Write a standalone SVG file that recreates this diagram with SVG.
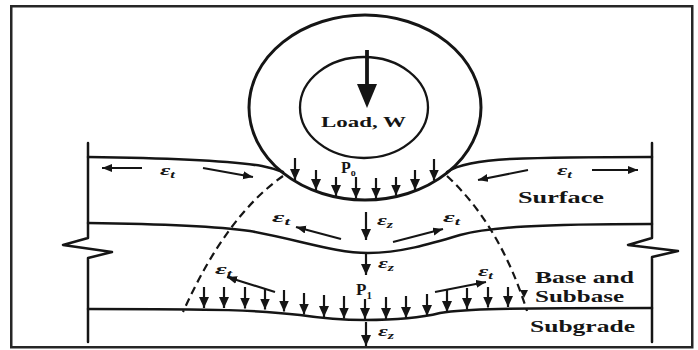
<svg xmlns="http://www.w3.org/2000/svg" width="698" height="350" viewBox="0 0 698 350">
  <style>
    .ln { fill: none; stroke: #151515; stroke-width: 2.5; stroke-linecap: round; stroke-linejoin: round; }
    .dash { fill: none; stroke: #151515; stroke-width: 2.2; stroke-dasharray: 8 5; }
    .pr { fill: none; stroke: #151515; stroke-width: 2.2; marker-end: url(#headP); }
    .st { fill: none; stroke: #151515; stroke-width: 2.2; marker-end: url(#headS); }
    .lbl { font-family: "Liberation Serif", "Times New Roman", serif; font-weight: bold; fill: #151515; }
    .eps { font-family: "Liberation Serif", "Times New Roman", serif; font-weight: bold; font-style: italic; font-size: 15px; fill: #151515; }
    .sub { font-size: 10px; }
  </style>
  <defs>
    <marker id="headP" markerUnits="userSpaceOnUse" markerWidth="13" markerHeight="12" refX="11" refY="5" orient="auto">
      <path d="M0,0 L11,5 L0,10 z" fill="#151515"/>
    </marker>
    <marker id="headS" markerUnits="userSpaceOnUse" markerWidth="12" markerHeight="10" refX="10" refY="4" orient="auto">
      <path d="M0,0 L10,4 L0,8 z" fill="#151515"/>
    </marker>
  </defs>

  <rect x="0" y="0" width="698" height="350" fill="#fff"/>

  <!-- outer frame -->
  <g id="frame">
    <rect x="11.25" y="6.25" width="681" height="341" fill="none" stroke="#262626" stroke-width="2.5"/>
  </g>

  <!-- tyre with load -->
  <g id="tyre">
    <ellipse cx="365" cy="107.5" rx="116" ry="92.5" fill="none" stroke="#151515" stroke-width="3"/>
    <ellipse cx="364" cy="107.5" rx="64" ry="50.5" fill="none" stroke="#151515" stroke-width="2.3"/>
    <line x1="367" y1="50" x2="367" y2="88" stroke="#151515" stroke-width="3.8"/>
    <path d="M357,84 L377,84 L367,108 z" fill="#151515"/>
    <text class="lbl" x="321" y="127" font-size="15" textLength="85" lengthAdjust="spacingAndGlyphs">Load, W</text>
  </g>

  <!-- side walls with break marks -->
  <g id="walls">
    <path class="ln" d="M88,143 V238 L63,245 L112,252 L88,258 V342"/>
    <path class="ln" d="M652,143 V238 L628,245 L678,251 L652,257 V342"/>
  </g>

  <!-- layer boundaries -->
  <g id="layers">
    <path class="ln" d="M88,157 C170,158 230,161 262,166 C272,168 278,170 283,172"/>
    <path class="ln" d="M447,172 C456,166 472,161 510,159 C560,157 610,157 652,157"/>
    <path class="ln" d="M88,223 C170,224 215,226 250,231 C300,240 335,253 368,253 C400,253 430,244 460,235 C490,227 540,224 652,224"/>
    <path class="ln" d="M88,309 C220,309 260,310 300,315 C320,318 340,320 365,320 C395,320 420,318 440,313 C465,309 500,308 652,308"/>
  </g>

  <!-- load spread boundaries -->
  <g id="spread">
    <path class="dash" d="M283,176 Q226,216 183,312"/>
    <path class="dash" d="M447,176 Q500,225 527,311"/>
  </g>

  <!-- connectors: pressure and strain arrows -->
  <g id="connectors">
    <!-- contact pressure under the tyre -->
    <line class="pr" x1="295" y1="158" x2="295" y2="180"/>
    <line class="pr" x1="316" y1="170" x2="316" y2="190"/>
    <line class="pr" x1="336" y1="177" x2="336" y2="196"/>
    <line class="pr" x1="356" y1="177" x2="356" y2="198.5"/>
    <line class="pr" x1="376" y1="178" x2="376" y2="198.5"/>
    <line class="pr" x1="396" y1="177" x2="396" y2="195.5"/>
    <line class="pr" x1="415" y1="170" x2="415" y2="190"/>
    <line class="pr" x1="434" y1="159" x2="434" y2="180.5"/>

    <!-- pressure on the subgrade -->
    <line class="pr" x1="204" y1="287" x2="204" y2="308"/>
    <line class="pr" x1="224" y1="287" x2="224" y2="308"/>
    <line class="pr" x1="245" y1="287" x2="245" y2="308.5"/>
    <line class="pr" x1="265" y1="288" x2="265" y2="309.5"/>
    <line class="pr" x1="284" y1="290" x2="284" y2="311.5"/>
    <line class="pr" x1="304" y1="293" x2="304" y2="314.5"/>
    <line class="pr" x1="324" y1="295" x2="324" y2="317"/>
    <line class="pr" x1="344" y1="296" x2="344" y2="318.5"/>
    <line class="pr" x1="365" y1="299" x2="365" y2="319"/>
    <line class="pr" x1="386" y1="297" x2="386" y2="319"/>
    <line class="pr" x1="406" y1="296" x2="406" y2="318"/>
    <line class="pr" x1="427" y1="294" x2="427" y2="316"/>
    <line class="pr" x1="447" y1="290" x2="447" y2="312"/>
    <line class="pr" x1="467" y1="288" x2="467" y2="309"/>
    <line class="pr" x1="488" y1="287" x2="488" y2="307.5"/>
    <line class="pr" x1="508" y1="287" x2="508" y2="307"/>
    <path d="M520,290 L528,290 L524,298 z" fill="#151515"/>

    <!-- vertical strains on the centre line -->
    <line class="pr" x1="366" y1="212" x2="366" y2="240"/>
    <line class="pr" x1="366" y1="253" x2="366" y2="275"/>
    <line class="pr" x1="366" y1="322" x2="366" y2="346"/>

    <!-- horizontal strains -->
    <line class="st" x1="142" y1="168" x2="102" y2="168"/>
    <line class="st" x1="203" y1="168" x2="253" y2="177"/>
    <line class="st" x1="528" y1="170" x2="478" y2="180"/>
    <line class="st" x1="592" y1="170" x2="638" y2="170"/>
    <line class="st" x1="341" y1="239" x2="296" y2="227"/>
    <line class="st" x1="393" y1="242" x2="443" y2="229"/>
    <line class="st" x1="275" y1="292" x2="227" y2="277"/>
    <line class="st" x1="435" y1="292" x2="486" y2="282"/>
  </g>

  <!-- strain and pressure symbols -->
  <g id="symbols">
    <text class="eps" x="160" y="175" textLength="15" lengthAdjust="spacingAndGlyphs">ε<tspan class="sub" dy="3">t</tspan></text>
    <text class="eps" x="557" y="175" textLength="15" lengthAdjust="spacingAndGlyphs">ε<tspan class="sub" dy="3">t</tspan></text>
    <text class="eps" x="272" y="222" textLength="18" lengthAdjust="spacingAndGlyphs">ε<tspan class="sub" dy="3">t</tspan></text>
    <text class="eps" x="443" y="222" textLength="17" lengthAdjust="spacingAndGlyphs">ε<tspan class="sub" dy="3">t</tspan></text>
    <text class="eps" x="215" y="274" textLength="17" lengthAdjust="spacingAndGlyphs">ε<tspan class="sub" dy="3">t</tspan></text>
    <text class="eps" x="478" y="276" textLength="15" lengthAdjust="spacingAndGlyphs">ε<tspan class="sub" dy="3">t</tspan></text>
    <text class="eps" x="377" y="225" textLength="16" lengthAdjust="spacingAndGlyphs">ε<tspan class="sub" dy="3">z</tspan></text>
    <text class="eps" x="378" y="268" textLength="16" lengthAdjust="spacingAndGlyphs">ε<tspan class="sub" dy="3">z</tspan></text>
    <text class="eps" x="378" y="336" textLength="16" lengthAdjust="spacingAndGlyphs">ε<tspan class="sub" dy="3">z</tspan></text>
    <text class="lbl" x="341" y="173" font-size="16">P<tspan font-size="10" dy="3">o</tspan></text>
    <text class="lbl" x="356" y="295" font-size="17">P<tspan font-size="11" dy="4">1</tspan></text>
  </g>

  <!-- layer names -->
  <g id="layer-names">
    <text class="lbl" x="518" y="203" font-size="17" textLength="86" lengthAdjust="spacingAndGlyphs">Surface</text>
    <text class="lbl" x="535" y="283" font-size="17" textLength="99" lengthAdjust="spacingAndGlyphs">Base and</text>
    <text class="lbl" x="535" y="302" font-size="17" textLength="89" lengthAdjust="spacingAndGlyphs">Subbase</text>
    <text class="lbl" x="530" y="332" font-size="17" textLength="105" lengthAdjust="spacingAndGlyphs">Subgrade</text>
  </g>
</svg>
